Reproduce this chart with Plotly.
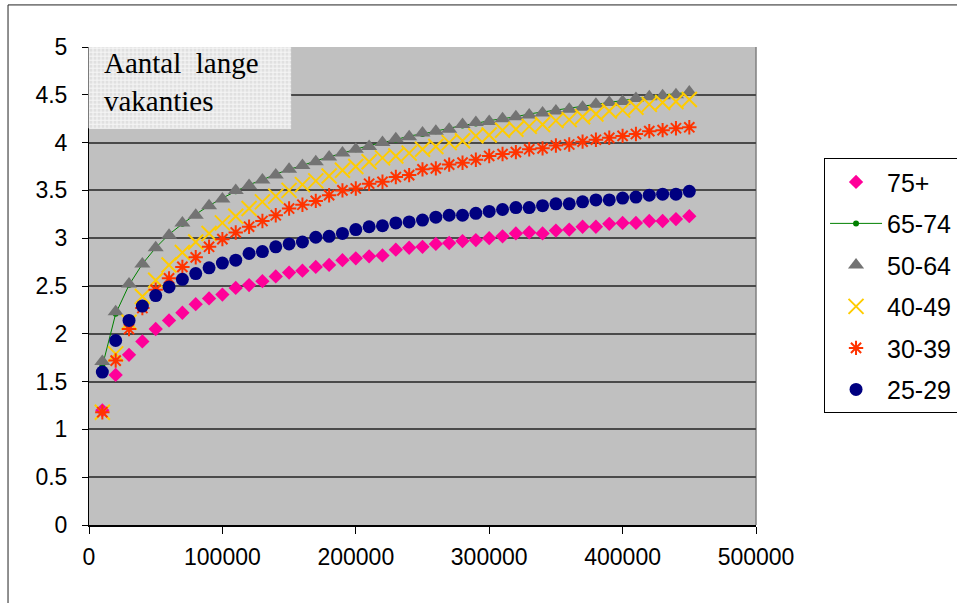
import plotly.graph_objects as go

# Vakantiebudget (x) tegen het gemiddeld aantal lange vakanties per leeftijdsgroep
budget = [10000, 20000, 30000, 40000, 50000, 60000, 70000, 80000, 90000, 100000,
          110000, 120000, 130000, 140000, 150000, 160000, 170000, 180000, 190000, 200000,
          210000, 220000, 230000, 240000, 250000, 260000, 270000, 280000, 290000, 300000,
          310000, 320000, 330000, 340000, 350000, 360000, 370000, 380000, 390000, 400000,
          410000, 420000, 430000, 440000, 450000]

age_75_plus = [1.20, 1.57, 1.78, 1.92, 2.05, 2.14, 2.22, 2.31, 2.37, 2.41,
               2.48, 2.51, 2.55, 2.60, 2.64, 2.66, 2.70, 2.72, 2.77, 2.79,
               2.81, 2.82, 2.88, 2.90, 2.91, 2.94, 2.95, 2.97, 2.98, 3.00,
               3.02, 3.05, 3.06, 3.05, 3.08, 3.09, 3.12, 3.12, 3.15, 3.16,
               3.16, 3.18, 3.18, 3.20, 3.23]

age_65_74 = [1.66, 2.21, 2.51, 2.73, 2.90, 3.04, 3.15, 3.25, 3.34, 3.42,
             3.49, 3.56, 3.61, 3.67, 3.72, 3.76, 3.81, 3.85, 3.89, 3.93,
             3.97, 4.00, 4.03, 4.07, 4.09, 4.12, 4.15, 4.18, 4.20, 4.23,
             4.25, 4.27, 4.30, 4.32, 4.34, 4.36, 4.38, 4.40, 4.42, 4.44,
             4.46, 4.48, 4.50, 4.51, 4.53]

age_50_64 = [1.71, 2.23, 2.52, 2.73, 2.90, 3.03, 3.16, 3.24, 3.34, 3.41,
             3.50, 3.55, 3.61, 3.66, 3.72, 3.76, 3.80, 3.85, 3.89, 3.93,
             3.96, 4.00, 4.04, 4.06, 4.10, 4.12, 4.14, 4.19, 4.21, 4.22,
             4.25, 4.27, 4.29, 4.31, 4.33, 4.35, 4.37, 4.40, 4.42, 4.43,
             4.46, 4.48, 4.49, 4.50, 4.53]

age_40_49 = [1.18, 1.79, 2.12, 2.39, 2.56, 2.72, 2.85, 2.96, 3.05, 3.16,
             3.23, 3.31, 3.38, 3.44, 3.50, 3.56, 3.60, 3.65, 3.71, 3.75,
             3.80, 3.84, 3.86, 3.89, 3.93, 3.96, 4.00, 4.02, 4.07, 4.08,
             4.13, 4.14, 4.17, 4.19, 4.23, 4.24, 4.27, 4.30, 4.33, 4.34,
             4.37, 4.40, 4.42, 4.43, 4.45]

age_30_39 = [1.18, 1.72, 2.05, 2.27, 2.46, 2.58, 2.70, 2.80, 2.91, 2.99,
             3.06, 3.12, 3.18, 3.24, 3.31, 3.35, 3.39, 3.45, 3.50, 3.52,
             3.57, 3.59, 3.64, 3.66, 3.72, 3.73, 3.77, 3.79, 3.82, 3.86,
             3.88, 3.90, 3.93, 3.94, 3.97, 3.98, 4.01, 4.03, 4.05, 4.07,
             4.09, 4.12, 4.13, 4.15, 4.16]

age_25_29 = [1.60, 1.93, 2.14, 2.29, 2.40, 2.49, 2.57, 2.63, 2.69, 2.74,
             2.77, 2.84, 2.86, 2.91, 2.94, 2.96, 3.01, 3.02, 3.05, 3.09,
             3.12, 3.13, 3.16, 3.17, 3.19, 3.22, 3.24, 3.24, 3.26, 3.28,
             3.30, 3.32, 3.32, 3.34, 3.36, 3.36, 3.38, 3.40, 3.40, 3.42,
             3.43, 3.45, 3.46, 3.46, 3.49]

x_ticks = [0, 100000, 200000, 300000, 400000, 500000]
y_ticks = [0, 0.5, 1, 1.5, 2, 2.5, 3, 3.5, 4, 4.5, 5]
y_tick_text = ["0", "0.5", "1", "1.5", "2", "2.5", "3", "3.5", "4", "4.5", "5"]

FONT = "Liberation Sans, Arial, sans-serif"
SERIF = "Liberation Serif, Times New Roman, serif"

fig = go.Figure()

fig.add_trace(go.Scatter(
    x=budget, y=age_75_plus, name="75+", mode="markers", legendgroup="a",
    marker=dict(symbol="diamond", size=11, color="#FF0099", line=dict(width=0))))
fig.add_trace(go.Scatter(
    x=budget, y=age_65_74, name="65-74", mode="lines+markers", legendgroup="b",
    line=dict(color="#008000", width=1),
    marker=dict(symbol="circle", size=6, color="#008000", line=dict(width=0))))
fig.add_trace(go.Scatter(
    x=budget, y=age_50_64, name="50-64", mode="markers", legendgroup="c",
    marker=dict(symbol="triangle-up", size=14, color="#737373", line=dict(width=0))))
fig.add_trace(go.Scatter(
    x=budget, y=age_40_49, name="40-49", mode="markers", legendgroup="d",
    marker=dict(symbol="x-thin-open", size=15, color="#FFCC00",
                line=dict(width=2, color="#FFCC00"))))
fig.add_trace(go.Scatter(
    x=budget, y=age_30_39, name="30-39", mode="markers", legendgroup="e",
    marker=dict(symbol="asterisk-open", size=12, color="#FF3300",
                line=dict(width=2, color="#FF3300"))))
fig.add_trace(go.Scatter(
    x=budget, y=age_25_29, name="25-29", mode="markers", legendgroup="f",
    marker=dict(symbol="circle", size=13, color="#000080", line=dict(width=0))))

# Label box in the upper left corner: light fill with a fine white grid
bx0, bx1, by0, by1 = 0.0, 0.303, 0.830, 1.0
plot_w, plot_h = 667.0, 477.5
grid_path = []
step = 4.0
px = 0.0
while px <= (bx1 - bx0) * plot_w:
    xx = bx0 + px / plot_w
    grid_path.append(f"M{xx:.5f},{by0:.5f}L{xx:.5f},{by1:.5f}")
    px += step
py = 0.0
while py <= (by1 - by0) * plot_h:
    yy = by0 + py / plot_h
    grid_path.append(f"M{bx0:.5f},{yy:.5f}L{bx1:.5f},{yy:.5f}")
    py += step

shapes = [
    dict(type="rect", xref="paper", yref="paper", x0=bx0, x1=bx1, y0=by0, y1=by1,
         fillcolor="#E0E0E0", line=dict(width=0), layer="above"),
    dict(type="path", xref="paper", yref="paper", path="".join(grid_path),
         line=dict(color="#F6F6F6", width=1), layer="above"),
    # right border of the plot area
    dict(type="line", xref="paper", yref="paper", x0=1, x1=1, y0=0, y1=1,
         line=dict(color="#808080", width=1.5), layer="below"),
    # outer chart frame
    dict(type="line", xref="paper", yref="paper", x0=-0.1214, x1=-0.1214, y0=-0.2, y1=1.088,
         line=dict(color="#222222", width=1)),
    dict(type="line", xref="paper", yref="paper", x0=-0.1214, x1=1.32, y0=1.088, y1=1.088,
         line=dict(color="#222222", width=1)),
]

annotations = [
    dict(text="Aantal  lange", xref="paper", yref="paper", x=0.020, y=1.004,
         xanchor="left", yanchor="top", showarrow=False,
         font=dict(family=SERIF, size=29, color="#000000")),
    dict(text="vakanties", xref="paper", yref="paper", x=0.020, y=0.924,
         xanchor="left", yanchor="top", showarrow=False,
         font=dict(family=SERIF, size=29, color="#000000")),
]

fig.update_layout(
    width=957, height=603,
    margin=dict(l=89, r=201, t=47, b=78, pad=0, autoexpand=False),
    paper_bgcolor="#FFFFFF",
    plot_bgcolor="#C0C0C0",
    font=dict(family=FONT, size=23, color="#000000"),
    showlegend=True,
    legend=dict(
        x=1.102, y=0.7675, xanchor="left", yanchor="top",
        bgcolor="#FFFFFF", bordercolor="#000000", borderwidth=1,
        font=dict(family=FONT, size=25, color="#000000"),
        traceorder="grouped", tracegroupgap=6, itemwidth=52,
    ),
    shapes=shapes,
    annotations=annotations,
    xaxis=dict(
        range=[0, 500000], tickvals=x_ticks, tickformat="d",
        showgrid=False, zeroline=False,
        showline=True, linecolor="#000000", linewidth=1.5,
        ticks="outside", ticklen=7, tickcolor="#000000", tickwidth=1,
        ticklabelstandoff=4,
        tickfont=dict(family=FONT, size=23),
    ),
    yaxis=dict(
        range=[0, 5], tickvals=y_ticks, ticktext=y_tick_text,
        showgrid=True, gridcolor="#4A4A4A", gridwidth=1.5,
        zeroline=False,
        showline=True, linecolor="#000000", linewidth=1,
        ticks="outside", ticklen=6, tickcolor="#000000", tickwidth=1,
        ticklabelstandoff=10,
        tickfont=dict(family=FONT, size=23),
    ),
)

fig.write_html("out.html")
